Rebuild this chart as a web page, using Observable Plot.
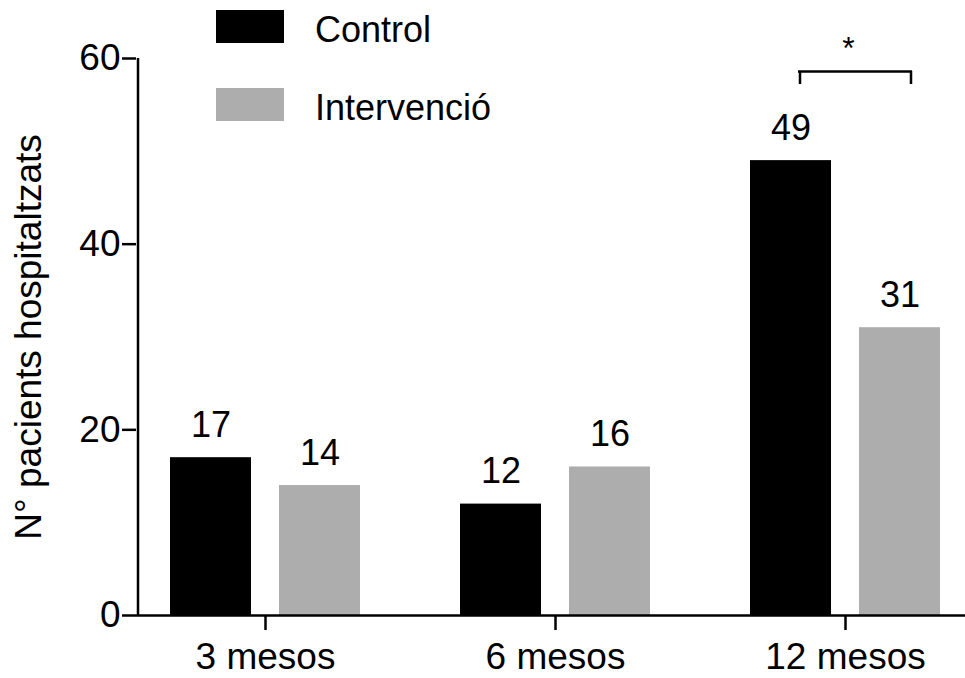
<!DOCTYPE html>
<html><head><meta charset="utf-8">
<script src="https://cdn.jsdelivr.net/npm/d3@7"></script>
<script src="https://cdn.jsdelivr.net/npm/@observablehq/plot@0.6"></script>
<style>
body{margin:0;background:#fff;}
#wrap{position:relative;width:965px;height:678px;font-family:"Liberation Sans",Arial,Helvetica,sans-serif;overflow:hidden;}
#wrap svg{position:absolute;left:0;top:0;}
.sw{position:absolute;left:216px;width:68px;height:33px;}
.lt{position:absolute;left:315px;font-size:36px;line-height:36px;color:#000;white-space:nowrap;}
</style></head><body><div id="wrap"></div>
<script>
// ---- data ----
const periods = ["3 mesos", "6 mesos", "12 mesos"];
const groups = ["Control", "Intervenció"];
const control = [17, 12, 49];
const intervencio = [14, 16, 31];
const yTicks = [0, 20, 40, 60];
const colors = ["#000000", "#adadad"];
const yLabel = "N° pacients hospitaltzats";
const sigPeriod = "12 mesos";
const sigLabel = "*";
const sigTop = 58.6;
const sigBottom = 57.2;

const controlData = periods.map((p, i) => ({period: p, value: control[i]}));
const intervData = periods.map((p, i) => ({period: p, value: intervencio[i]}));
const sig = [{period: sigPeriod, top: sigTop, bottom: sigBottom, label: sigLabel}];

const chart = Plot.plot({
  width: 965,
  height: 678,
  marginLeft: 136,
  marginRight: 0,
  marginTop: 58,
  marginBottom: 63,
  style: {fontFamily: '"Liberation Sans", Arial, Helvetica, sans-serif', fontSize: "37px", color: "#000", background: "transparent"},
  x: {type: "band", domain: periods, range: [120, 990], padding: 0},
  y: {domain: [0, 60], range: [615, 58]},
  marks: [
    Plot.barY(controlData, {x: "period", y: "value", fill: colors[0], insetLeft: 50, insetRight: 159}),
    Plot.barY(intervData, {x: "period", y: "value", fill: colors[1], insetLeft: 159, insetRight: 50}),
    Plot.text(controlData, {x: "period", y: "value", text: d => String(d.value), dx: -54.5, dy: -32.5, fontSize: 36, fill: "#000"}),
    Plot.text(intervData, {x: "period", y: "value", text: d => String(d.value), dx: 54.5, dy: -32.5, fontSize: 36, fill: "#000"}),
    Plot.ruleY([0], {stroke: "#000", strokeWidth: 2.5}),
    Plot.ruleX([periods[0]], {x: d => d, y1: 0, y2: 60, dx: -127.5, stroke: "#000", strokeWidth: 2.5}),
    Plot.axisY({ticks: yTicks, tickSize: 14, tickPadding: 2, strokeWidth: 2.5, label: null, fontSize: 37}),
    Plot.axisX({tickSize: 15, tickPadding: 12, strokeWidth: 2.5, label: null, fontSize: 37}),
    Plot.tickY(sig, {x: "period", y: "top", insetLeft: 98, insetRight: 78, stroke: "#000", strokeWidth: 2.5}),
    Plot.ruleX(sig, {x: "period", y1: "bottom", y2: "top", dx: -45.5, stroke: "#000", strokeWidth: 2.5}),
    Plot.ruleX(sig, {x: "period", y1: "bottom", y2: "top", dx: 65.5, stroke: "#000", strokeWidth: 2.5}),
    Plot.text(sig, {x: "period", y: "top", text: "label", dx: 3, dy: -23, fontSize: 32, fill: "#000"}),
    Plot.text([yLabel], {frameAnchor: "left", textAnchor: "middle", rotate: -90, text: d => d, dx: -107, fontSize: 37, fill: "#000"})
  ]
});

const wrap = document.getElementById("wrap");
wrap.appendChild(chart);

// legend (HTML overlay)
const legendTops = [10, 88];
const textTops = [11.5, 89.5];
groups.forEach((g, i) => {
  const sw = document.createElement("div");
  sw.className = "sw";
  sw.style.top = legendTops[i] + "px";
  sw.style.background = colors[i];
  wrap.appendChild(sw);
  const t = document.createElement("div");
  t.className = "lt";
  t.style.top = textTops[i] + "px";
  t.textContent = g;
  wrap.appendChild(t);
});
</script>
</body></html>
